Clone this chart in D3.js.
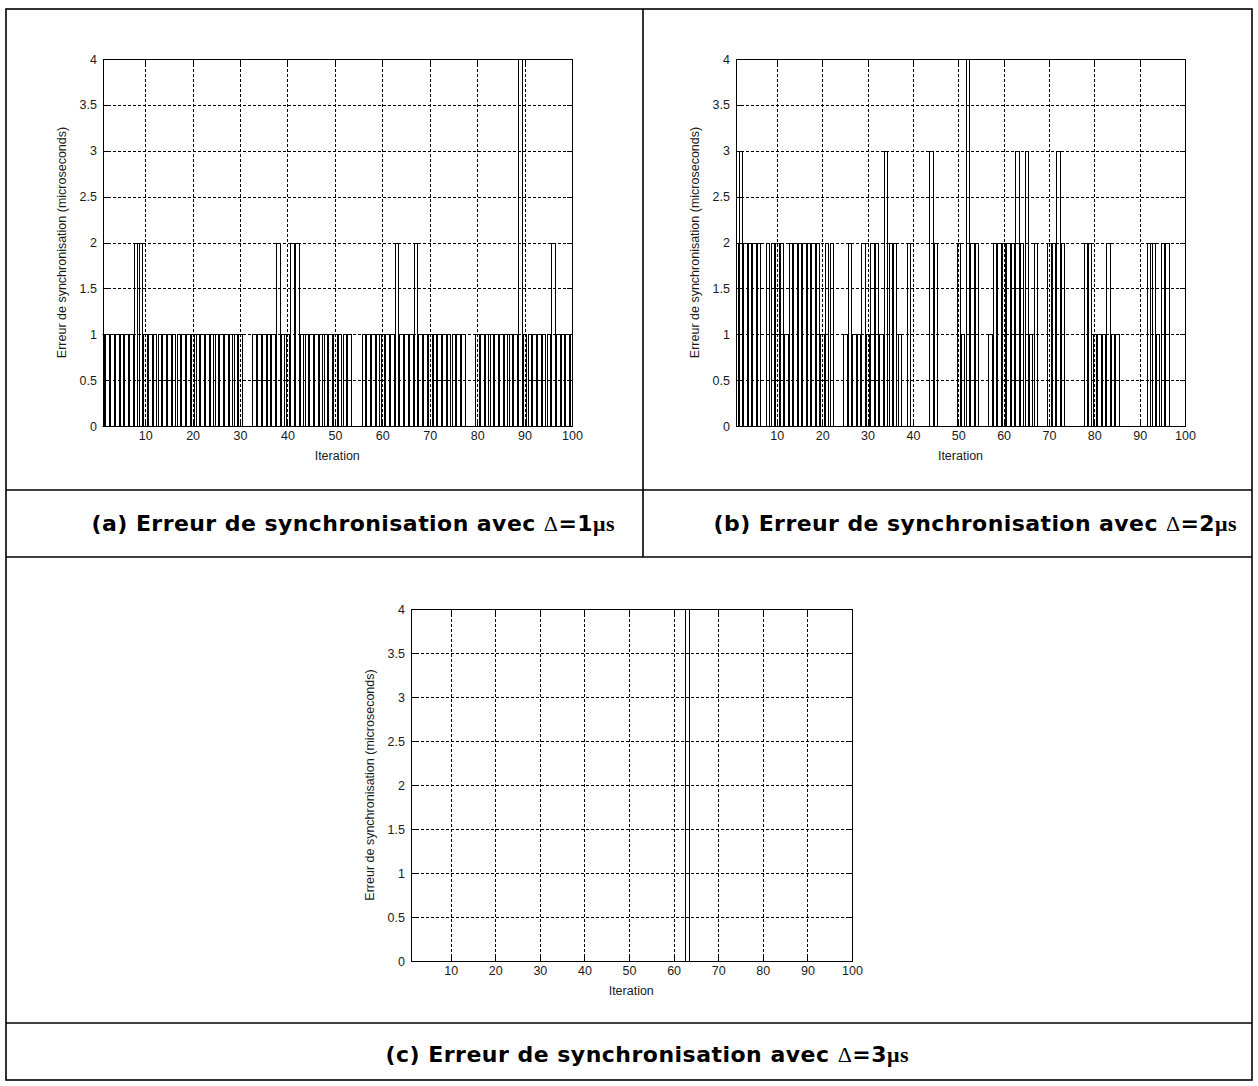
<!DOCTYPE html>
<html><head><meta charset="utf-8">
<script src="https://cdn.jsdelivr.net/npm/d3@7"></script>
<style>body{margin:0;background:#fff}svg{display:block}</style>
</head><body>
<svg id="chart" width="1258" height="1086"></svg>
<script>
// ---- data ----
const iterations = d3.range(1, 101);
const errA = [
 1,1,1,1,1,1,1,2,2,1,
 1,1,1,1,1,1,1,1,1,1,
 1,1,1,1,1,1,1,1,1,1,
 0,0,1,1,1,1,1,2,1,1,
 2,2,1,1,1,1,1,1,1,1,
 1,1,1,0,0,1,1,1,1,1,
 1,1,2,1,1,1,2,1,1,1,
 1,1,1,1,1,1,1,0,0,1,
 1,1,1,1,1,1,1,1,4,1,
 1,1,1,1,1,2,1,1,1,1];
const errB = [
 2,3,2,2,2,2,0,2,2,2,
 2,1,2,2,2,2,2,2,2,1,
 2,2,0,0,1,2,1,1,2,1,
 2,2,1,3,2,2,1,0,2,0,
 0,0,0,3,2,0,0,0,0,2,
 1,4,2,2,0,0,1,2,2,2,
 2,2,3,2,3,1,2,0,0,2,
 2,3,2,0,0,0,0,2,2,1,
 1,1,2,1,1,0,0,0,0,0,
 0,2,2,1,2,2,0,0,0,0];
const errC = [
 0,0,0,0,0,0,0,0,0,0,
 0,0,0,0,0,0,0,0,0,0,
 0,0,0,0,0,0,0,0,0,0,
 0,0,0,0,0,0,0,0,0,0,
 0,0,0,0,0,0,0,0,0,0,
 0,0,0,0,0,0,0,0,0,0,
 0,0,4,0,0,0,0,0,0,0,
 0,0,0,0,0,0,0,0,0,0,
 0,0,0,0,0,0,0,0,0,0,
 0,0,0,0,0,0,0,0,0,0];
const xTicks = [10,20,30,40,50,60,70,80,90,100];
const yTicks = [0,0.5,1,1.5,2,2.5,3,3.5,4];
const xDomain = [1, 100];
const yDomain = [0, 4];
const yLabel = "Erreur de synchronisation (microseconds)";
const xLabel = "Iteration";
const captions = [
 {pre:"(a) Erreur de synchronisation avec ", d:"1"},
 {pre:"(b) Erreur de synchronisation avec ", d:"2"},
 {pre:"(c) Erreur de synchronisation avec ", d:"3"}
];

// ---- layout ----
const svg = d3.select("#chart");
const layouts = [
 {values: errA, left:102.5, right:572, top:59, bottom:426},
 {values: errB, left:736, right:1185, top:59, bottom:426},
 {values: errC, left:410.5, right:852, top:609, bottom:961}
];
const capPos = [{x:353, y:531}, {x:975, y:531}, {x:647, y:1062}];
const tickFont = "'Liberation Sans', Arial, sans-serif";
const tickSize = 12.5;

layouts.forEach((L, p) => {
  const g = svg.append("g");
  const x = d3.scaleLinear().domain(xDomain).range([L.left, L.right]);
  const y = d3.scaleLinear().domain(yDomain).range([L.bottom, L.top]);
  const px = v => Math.round(v) + 0.5;
  const cid = "clip" + p;
  svg.append("clipPath").attr("id", cid).append("rect")
    .attr("x", L.left).attr("y", L.top - 1).attr("width", L.right - L.left).attr("height", L.bottom - L.top + 2);

  // grid
  g.append("g").selectAll("line").data(yTicks.filter(t => t > 0 && t < 4)).join("line")
    .attr("x1", L.left).attr("x2", L.right)
    .attr("y1", d => px(y(d))).attr("y2", d => px(y(d)))
    .attr("stroke", "#000").attr("stroke-dasharray", "3,2").attr("shape-rendering", "crispEdges");
  g.append("g").selectAll("line").data(xTicks.filter(t => t < 100)).join("line")
    .attr("y1", L.top).attr("y2", L.bottom)
    .attr("x1", d => px(x(d))).attr("x2", d => px(x(d)))
    .attr("stroke", "#000").attr("stroke-dasharray", "3,2").attr("shape-rendering", "crispEdges");

  // bars
  const bw = 0.75;
  const pts = iterations.map((it, k) => ({it, v: L.values[k]})).filter(d => d.v > 0);
  g.append("g").attr("clip-path", `url(#${cid})`)
    .selectAll("rect").data(pts).join("rect")
    .attr("x", d => px(x(d.it - bw / 2)))
    .attr("width", d => Math.round(x(d.it + bw / 2)) - Math.round(x(d.it - bw / 2)))
    .attr("y", d => px(y(d.v)))
    .attr("height", d => Math.round(y(0)) - Math.round(y(d.v)))
    .attr("fill", "none").attr("stroke", "#000").attr("stroke-width", 1)
    .attr("shape-rendering", "crispEdges");

  // axes
  const fmt = d => String(d);
  const ax = (gen, tr) => {
    const a = g.append("g").attr("transform", tr).call(gen);
    a.select(".domain").remove();
    a.selectAll(".tick line").attr("stroke", "#000").attr("shape-rendering", "crispEdges");
    a.selectAll("text").attr("font-family", tickFont).attr("font-size", tickSize).attr("fill", "#1a1a1a");
    return a;
  };
  ax(d3.axisBottom(x).tickValues(xTicks).tickFormat(fmt).tickSizeInner(-5).tickSizeOuter(0).tickPadding(5),
     `translate(0,${Math.round(L.bottom)})`);
  ax(d3.axisTop(x).tickValues(xTicks).tickFormat("").tickSizeInner(-5).tickSizeOuter(0),
     `translate(0,${Math.round(L.top)})`);
  ax(d3.axisLeft(y).tickValues(yTicks).tickFormat(fmt).tickSizeInner(-5).tickSizeOuter(0).tickPadding(6),
     `translate(${Math.round(L.left)},0)`);
  ax(d3.axisRight(y).tickValues(yTicks).tickFormat("").tickSizeInner(-5).tickSizeOuter(0),
     `translate(${Math.round(L.right)},0)`);

  // box
  g.append("rect").attr("x", px(L.left)).attr("y", px(L.top))
    .attr("width", Math.round(L.right) - Math.round(L.left)).attr("height", Math.round(L.bottom) - Math.round(L.top))
    .attr("fill", "none").attr("stroke", "#000").attr("shape-rendering", "crispEdges");

  // labels
  g.append("text").attr("x", (L.left + L.right) / 2).attr("y", L.bottom + 34)
    .attr("text-anchor", "middle").attr("font-family", tickFont).attr("font-size", tickSize).attr("fill", "#1a1a1a")
    .text(xLabel);
  g.append("text").attr("transform", `translate(${L.left - 41},${(L.top + L.bottom) / 2}) rotate(-90)`)
    .attr("text-anchor", "middle").attr("dy", "0.35em")
    .attr("font-family", tickFont).attr("font-size", tickSize).attr("fill", "#1a1a1a")
    .text(yLabel);
});

// table frame
const frame = svg.append("g").attr("stroke", "#000").attr("stroke-width", 1.6).attr("fill", "none");
frame.append("rect").attr("x", 6).attr("y", 9).attr("width", 1246).attr("height", 1071);
[[6, 490, 643, 490], [643, 490, 1252, 490], [6, 557, 1252, 557], [6, 1023, 1252, 1023], [643, 9, 643, 557]]
  .forEach(s => frame.append("line").attr("x1", s[0]).attr("y1", s[1]).attr("x2", s[2]).attr("y2", s[3]));

// captions
captions.forEach((c, k) => {
  const t = svg.append("text").attr("x", capPos[k].x).attr("y", capPos[k].y)
    .attr("text-anchor", "middle").attr("font-family", "'DejaVu Sans', sans-serif")
    .attr("font-weight", "bold").attr("font-size", 22).attr("fill", "#000")
    .attr("textLength", 523).attr("lengthAdjust", "spacing");
  t.append("tspan").text(c.pre);
  t.append("tspan").attr("font-family", "'Liberation Serif', serif").attr("font-weight", "normal").text("\u0394");
  t.append("tspan").text("=" + c.d);
  t.append("tspan").attr("font-family", "'Liberation Serif', serif").attr("font-weight", "bold").text("\u03bcs");
});
</script>
</body></html>
